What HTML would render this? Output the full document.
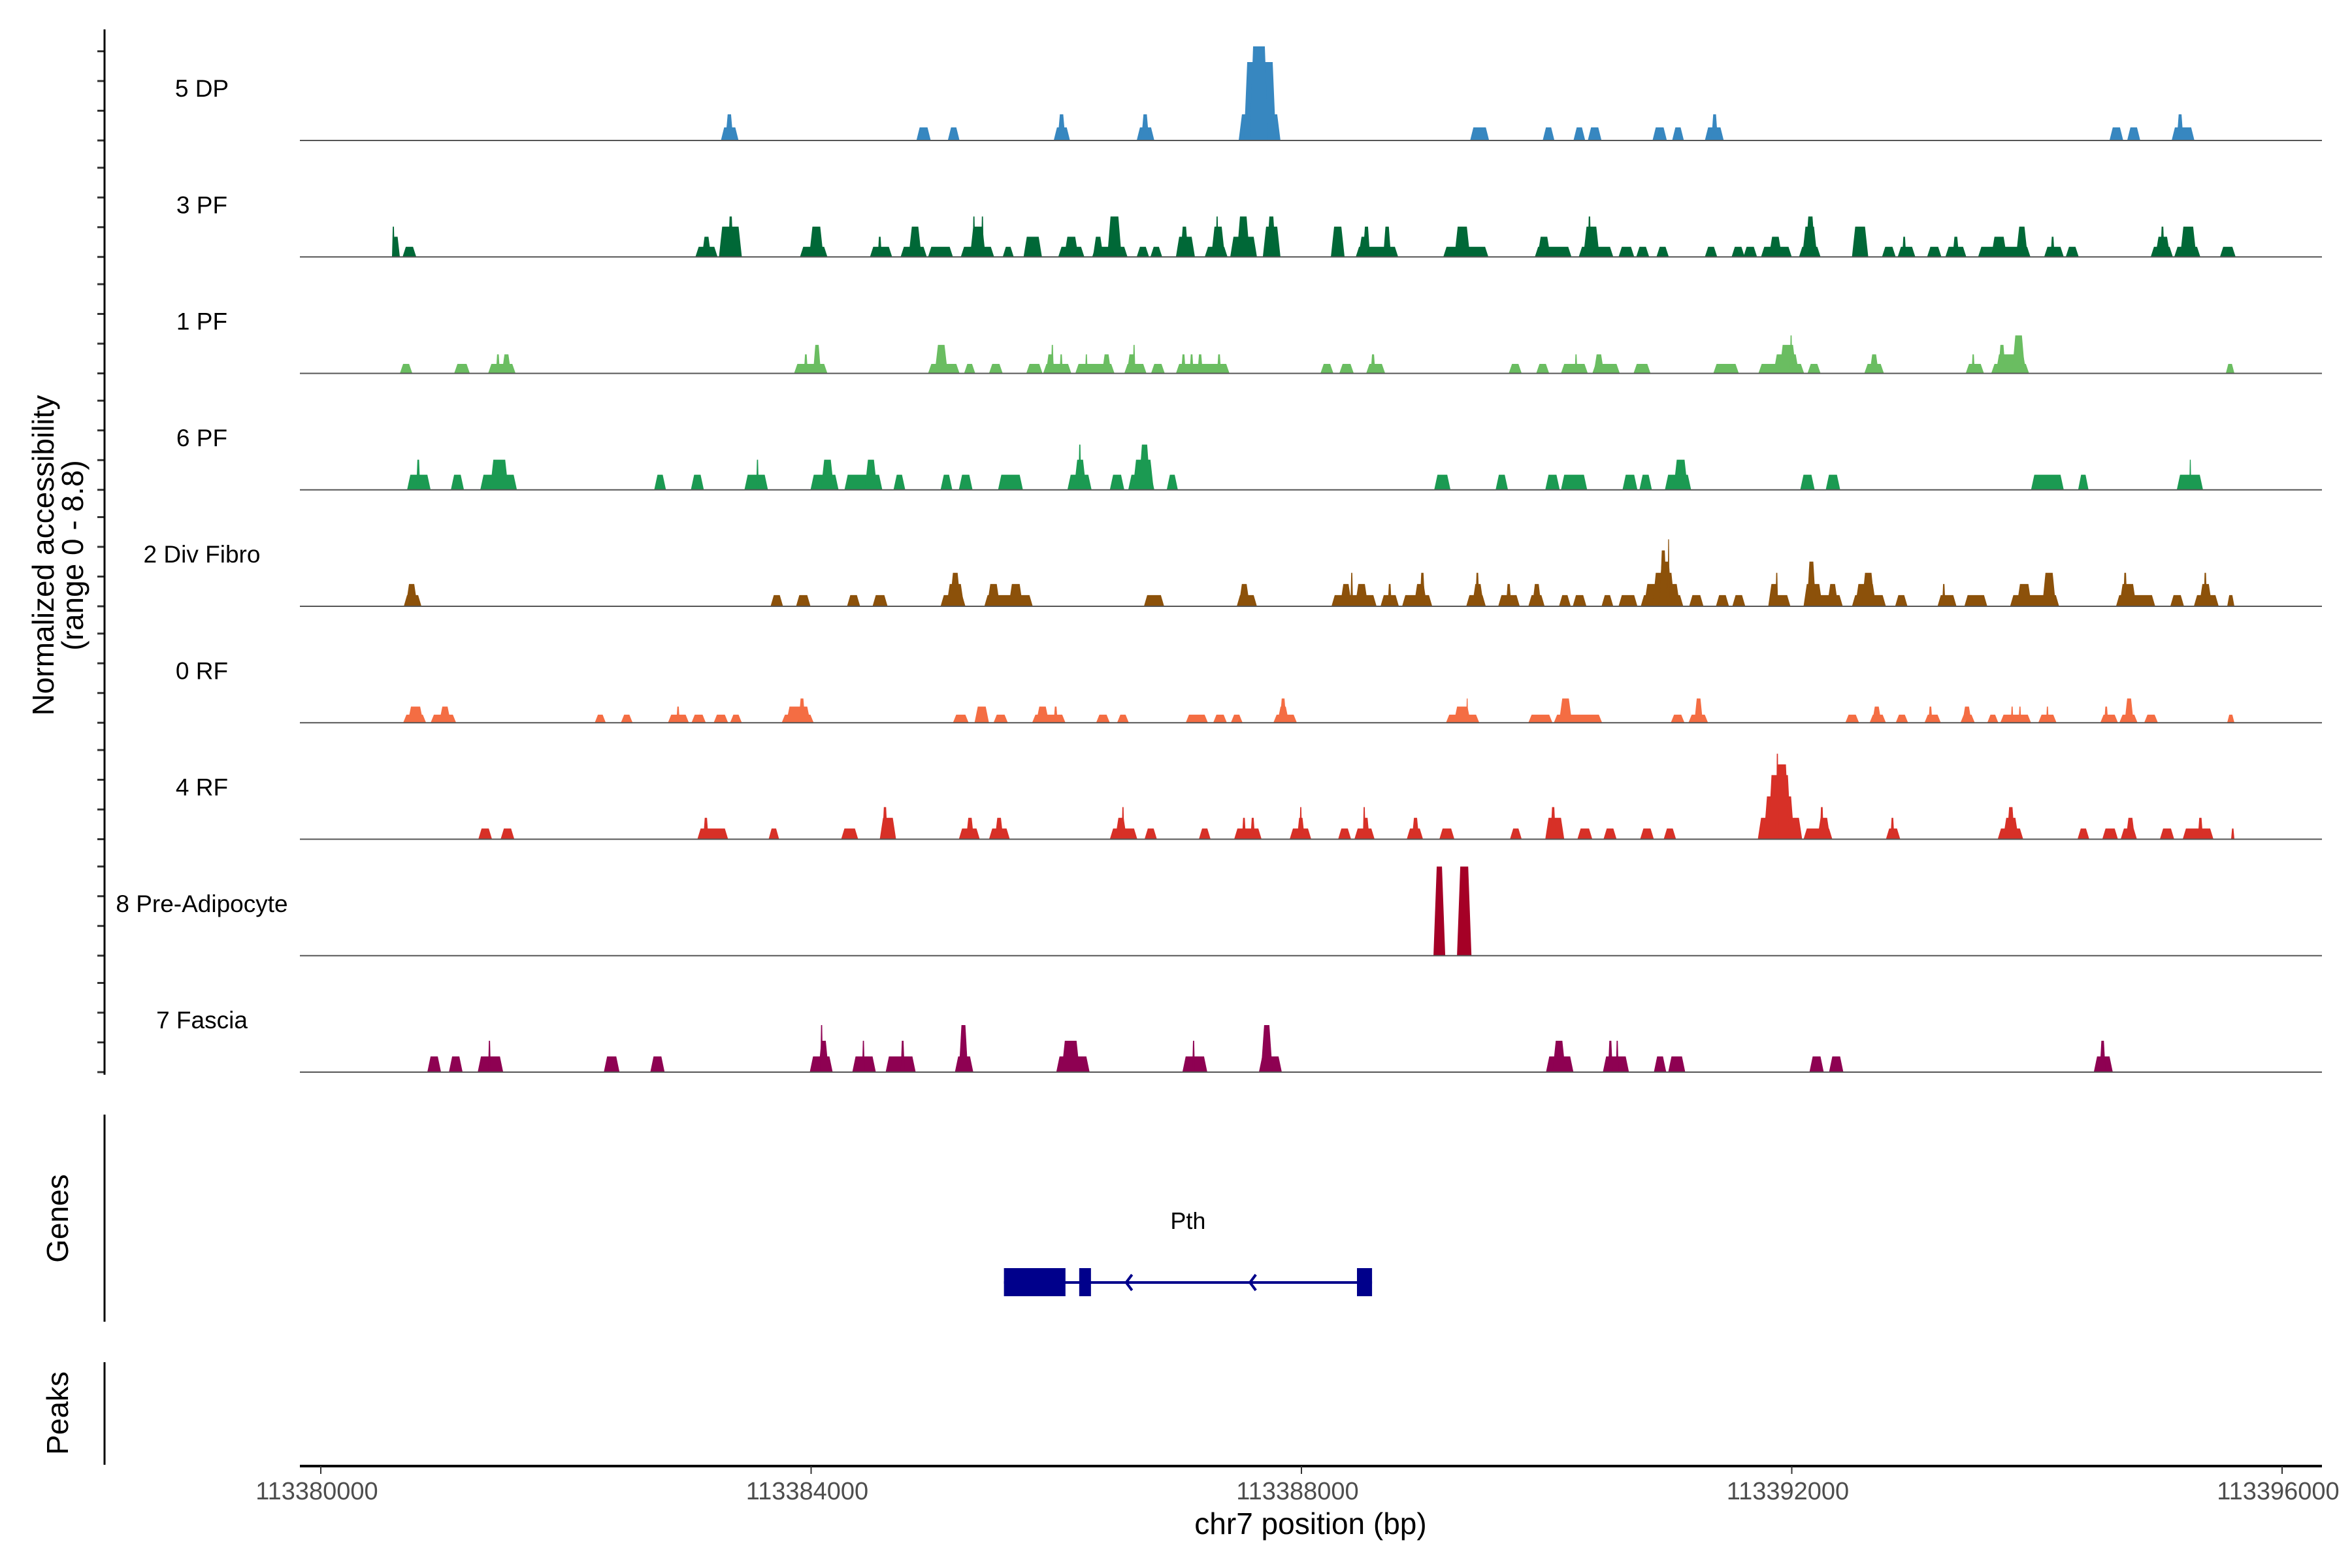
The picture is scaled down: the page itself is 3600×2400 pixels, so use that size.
<!DOCTYPE html>
<html><head><meta charset="utf-8"><style>
html,body{margin:0;padding:0;background:#fff}
svg{display:block;font-family:"Liberation Sans",Arial,sans-serif}
</style></head><body>
<svg id="chart" width="3600" height="2400" viewBox="0 0 3600 2400" xmlns="http://www.w3.org/2000/svg">
<text transform="translate(82,850) rotate(-90)" text-anchor="middle" font-size="46" fill="#000">Normalized accessibility</text>
<text transform="translate(127,850) rotate(-90)" text-anchor="middle" font-size="46" fill="#000">(range 0 - 8.8)</text>
<text transform="translate(104,1865) rotate(-90)" text-anchor="middle" font-size="46" fill="#000">Genes</text>
<text transform="translate(104,2163) rotate(-90)" text-anchor="middle" font-size="46" fill="#000">Peaks</text>
<text x="2006" y="2348" text-anchor="middle" font-size="46" fill="#000">chr7 position (bp)</text>
<g id="tracks"></g>
<g id="axes"></g>
<g id="genes"></g>
</svg>
<script>
const regionStart = 113380000;
const trackNames = ["5 DP","3 PF","1 PF","6 PF","2 Div Fibro","0 RF","4 RF","8 Pre-Adipocyte","7 Fascia"];
const trackColors = ["#3787c0","#006837","#6abd61","#1b9a52","#8c510a","#f46d43","#d73027","#a50026","#8e0152"];
const trackUnit = [1.1,0.85,0.8,1.27,0.94,0.68,0.9,7.5,1.32];
const xTickValues = [113380000,113384000,113388000,113392000,113396000];
const xTickLabels = ["113380000","113384000","113388000","113392000","113396000"];
// peaks: [start offset bp, end offset bp, level]
const peaksDP = [[3264,3408,1],[3301,3365,2],[4859,4976,1],[5115,5211,1],[5979,6112,1],[6011,6075,2],[6656,6800,1],[6693,6757,2],[7488,7829,2],[7531,7792,6],[7579,7728,7.2],[9376,9531,1],[9968,10064,1],[10219,10315,1],[10336,10448,1],[10864,10981,1],[11024,11120,1],[11291,11445,1],[11344,11397,2],[14592,14704,1],[14736,14843,1],[15099,15285,1],[15141,15195,2]];
const peaksPF3 = [[581,645,2],[581,603,3],[667,779,1],[3056,3237,1],[3109,3184,2],[3248,3435,3],[3323,3365,4],[3909,4133,1],[3984,4101,3],[4480,4661,1],[4544,4576,2],[4730,4944,1],[4795,4901,3],[4954,5157,1],[5221,5493,1],[5296,5424,3],[5317,5339,4],[5387,5408,4],[5563,5653,1],[5733,5883,2],[6016,6229,1],[6064,6181,2],[6293,6581,1],[6299,6384,2],[6416,6533,4],[6656,6757,1],[6768,6864,1],[6976,7131,2],[7013,7077,3],[7211,7397,1],[7264,7376,3],[7301,7323,4],[7419,7637,2],[7472,7579,4],[7685,7829,3],[7717,7792,4],[8240,8352,3],[8443,8789,1],[8464,8555,2],[8501,8560,3],[8667,8731,3],[9157,9525,1],[9248,9376,3],[9904,10203,1],[9925,10032,2],[10262,10544,1],[10299,10432,3],[10336,10363,4],[10587,10715,1],[10731,10837,1],[10896,10997,1],[11291,11392,1],[11509,11616,1],[11605,11717,1],[11749,12000,1],[11813,11920,2],[12059,12235,1],[12085,12208,3],[12112,12192,4],[12491,12624,3],[12736,12848,1],[12864,13008,1],[12901,12933,2],[13104,13221,1],[13253,13424,1],[13312,13365,2],[13520,13947,1],[13627,13755,2],[13829,13925,3],[14059,14219,1],[14112,14144,2],[14235,14341,1],[14928,15109,1],[14965,15088,2],[15008,15040,3],[15120,15333,1],[15168,15301,3],[15493,15621,1]];
const peaksPF1 = [[645,747,1],[1088,1216,1],[1365,1589,1],[1429,1461,2],[1477,1552,2],[3861,4133,1],[3941,3973,2],[4016,4080,3],[4954,5211,1],[5008,5115,3],[5248,5339,1],[5451,5563,1],[5755,5888,1],[5893,6123,1],[5915,5989,2],[5957,5979,3],[6027,6053,2],[6155,6475,1],[6235,6256,2],[6373,6448,2],[6555,6736,1],[6576,6651,2],[6624,6645,3],[6773,6885,1],[6976,7413,1],[7019,7056,2],[7088,7120,2],[7152,7195,2],[7312,7344,2],[8155,8261,1],[8309,8427,1],[8528,8683,1],[8565,8603,2],[9691,9797,1],[9915,10021,1],[10117,10336,1],[10229,10251,2],[10373,10597,1],[10384,10469,2],[10709,10848,1],[11360,11568,1],[11728,12101,1],[11851,12059,2],[11899,12037,3],[11984,12005,4],[12128,12235,1],[12592,12752,1],[12635,12709,2],[13419,13568,1],[13467,13493,2],[13627,13936,1],[13664,13915,2],[13685,13744,3],[13797,13904,4],[15541,15611,1]];
const peaksPF6 = [[704,896,1],[779,811,2],[1061,1168,1],[1301,1600,1],[1381,1531,2],[2720,2816,1],[3019,3125,1],[3456,3648,1],[3552,3573,2],[3995,4224,1],[4080,4187,2],[4272,4581,1],[4437,4539,2],[4672,4768,1],[5056,5152,1],[5205,5317,1],[5525,5728,1],[6091,6288,1],[6144,6245,2],[6181,6203,3],[6437,6555,1],[6587,6800,1],[6624,6795,2],[6672,6768,3],[6901,6992,1],[9083,9216,1],[9584,9685,1],[9989,10107,1],[10117,10331,1],[10619,10741,1],[10757,10859,1],[10965,11179,1],[11035,11152,2],[12069,12187,1],[12277,12395,1],[13952,14219,1],[14336,14421,1],[15141,15355,1],[15243,15259,2]];
const peaksDiv = [[677,821,1],[693,789,2],[3669,3771,1],[3877,3995,1],[4293,4400,1],[4501,4624,1],[5056,5259,1],[5104,5248,2],[5131,5221,3],[5413,5808,1],[5435,5541,2],[5611,5728,2],[6715,6880,1],[7472,7637,1],[7488,7579,2],[8245,8613,1],[8315,8411,2],[8400,8421,3],[8437,8544,2],[8645,8795,1],[8704,8736,2],[8821,9067,1],[8917,9024,2],[8965,9008,3],[9344,9504,1],[9392,9488,2],[9419,9451,3],[9605,9781,1],[9669,9712,2],[9851,9984,1],[9883,9957,2],[10101,10197,1],[10213,10325,1],[10448,10544,1],[10587,10741,1],[10768,11115,1],[10795,11088,2],[10864,11045,3],[10912,11024,4],[10923,10981,5],[10987,11003,6],[11163,11280,1],[11381,11488,1],[11515,11621,1],[11808,11989,1],[11808,11899,2],[11867,11888,3],[12096,12416,1],[12096,12251,2],[12123,12197,4],[12288,12379,2],[12491,12768,1],[12517,12688,2],[12571,12677,3],[12843,12944,1],[13189,13344,1],[13227,13253,2],[13408,13595,1],[13781,14181,1],[13835,13957,2],[14043,14155,3],[14645,14965,1],[14672,14811,2],[14704,14736,3],[15088,15200,1],[15280,15483,1],[15323,15429,2],[15360,15387,3],[15552,15611,1]];
const peaksRF0 = [[672,859,1],[709,837,2],[896,1104,1],[965,1061,2],[2235,2325,1],[2448,2544,1],[2832,3003,1],[2901,2928,2],[3024,3141,1],[3205,3323,1],[3339,3435,1],[3760,4021,1],[3797,3995,2],[3899,3952,3],[5157,5285,1],[5333,5451,2],[5488,5605,1],[5803,6075,1],[5835,5941,2],[5979,6011,2],[6325,6437,1],[6496,6592,1],[7056,7237,1],[7280,7392,1],[7424,7520,1],[7771,7963,1],[7803,7899,2],[7824,7877,3],[9179,9451,1],[9243,9381,2],[9344,9360,3],[9851,10048,1],[10059,10453,1],[10101,10208,3],[11013,11125,1],[11157,11317,1],[11205,11275,3],[12437,12549,1],[12635,12768,1],[12656,12731,2],[12848,12949,1],[13083,13216,1],[13115,13147,2],[13376,13493,1],[13392,13467,2],[13595,13685,1],[13701,13952,1],[13787,13808,2],[13851,13872,2],[14011,14160,1],[14075,14096,2],[14517,14661,1],[14549,14581,2],[14672,14821,1],[14715,14789,3],[14875,14987,1],[15552,15611,1]];
const peaksRF4 = [[1285,1397,1],[1467,1579,1],[3072,3323,1],[3120,3163,2],[3653,3739,1],[4245,4384,1],[4560,4693,2],[4581,4624,3],[5205,5376,1],[5264,5328,2],[5451,5621,1],[5499,5568,2],[6437,6661,1],[6480,6576,2],[6533,6555,3],[6720,6821,1],[7163,7259,1],[7451,7675,1],[7515,7547,2],[7584,7621,2],[7904,8080,1],[7963,8027,2],[7984,8005,3],[8299,8405,1],[8432,8597,1],[8501,8555,2],[8501,8523,3],[8859,8992,1],[8901,8960,2],[9125,9248,1],[9701,9797,1],[9989,10144,2],[10032,10075,3],[10251,10373,1],[10464,10571,1],[10763,10875,1],[10955,11056,1],[11723,12085,2],[11771,12021,4],[11808,11995,6],[11861,11979,7],[11872,11893,8],[12096,12331,1],[12208,12315,2],[12229,12261,3],[12768,12885,1],[12805,12837,2],[13680,13888,1],[13723,13851,2],[13755,13819,3],[14331,14427,1],[14533,14661,1],[14683,14816,1],[14725,14800,2],[15003,15120,1],[15189,15440,1],[15312,15355,2],[15584,15611,1]];
const peaksPre = [[9077,9173,1],[9269,9387,1]];
const peaksFascia = [[869,981,1],[1045,1157,1],[1280,1488,1],[1365,1387,2],[2309,2437,1],[2688,2805,1],[3989,4176,1],[4059,4144,2],[4075,4096,3],[4336,4528,1],[4416,4437,2],[4608,4853,1],[4731,4763,2],[5173,5323,1],[5205,5280,3],[6000,6272,1],[6043,6192,2],[7029,7232,1],[7109,7131,2],[7653,7840,1],[7669,7765,3],[9995,10219,1],[10048,10155,2],[10459,10672,1],[10501,10539,2],[10565,10587,2],[10875,10976,1],[10992,11131,1],[12144,12261,1],[12304,12421,1],[14464,14619,1],[14512,14560,2]];
const trackPeaks = [peaksDP,peaksPF3,peaksPF1,peaksPF6,peaksDiv,peaksRF0,peaksRF4,peaksPre,peaksFascia];
// gene Pth (minus strand): exons as bp offsets
const geneName = "Pth";
const geneStart = 5573, geneEnd = 8576;
const geneExons = [[5573,6075],[6187,6283],[8453,8576]];
const geneArrows = [6570,7580];

const NS = "http://www.w3.org/2000/svg";
const plotX0 = 459, plotX1 = 3554;
function xScale(bp){ return 491 + (bp - regionStart) * 750.5 / 4000; }
const pxPerUnit = 160 / 8.8;
function baseY(i){ return 215 + i * 178.25; }
function mk(tag, attrs, parent){ const e = document.createElementNS(NS, tag); for (const k in attrs) e.setAttribute(k, attrs[k]); parent.appendChild(e); return e; }

const gT = document.getElementById('tracks');
const gA = document.getElementById('axes');
const gG = document.getElementById('genes');

trackNames.forEach((name, i) => {
  const by = baseY(i);
  const g = mk('g', {}, gT);
  
  
  const lbl = mk('text', {x: 309, y: by - 67, 'text-anchor': 'middle', 'font-size': 37, fill: '#000'}, g);
  lbl.textContent = name;
  
  
  trackPeaks[i].forEach(p => {
    const x0 = xScale(regionStart + p[0]), x1 = xScale(regionStart + p[1]);
    const h = p[2] * trackUnit[i] * pxPerUnit;
    const inset = Math.min(5, (x1 - x0) / 3.5);
    const poly = mk('polygon', {points: `${x0},${by} ${x0+inset},${by-h} ${x1-inset},${by-h} ${x1},${by}`, fill: trackColors[i]}, g);
    
    
  });
  const bl = mk('line', {x1: plotX0, x2: plotX1, y1: by, y2: by, stroke: '#555', 'stroke-width': 2}, g);
  
  
  for (let k = 0; k < 4; k++) {
    const ty = by - k * 45.5;
    const t = mk('line', {x1: 149, x2: 160, y1: ty, y2: ty, stroke: '#333', 'stroke-width': 3}, gA);
    
    
  }
});

const yAxis = mk('line', {x1: 160, x2: 160, y1: 45, y2: 1645, stroke: '#000', 'stroke-width': 3}, gA);


const gAx = mk('line', {x1: 160, x2: 160, y1: 1706, y2: 2023, stroke: '#000', 'stroke-width': 3}, gA);


const pAx = mk('line', {x1: 160, x2: 160, y1: 2085, y2: 2242, stroke: '#000', 'stroke-width': 3}, gA);


const xAx = mk('line', {x1: plotX0, x2: plotX1, y1: 2244, y2: 2244, stroke: '#000', 'stroke-width': 4}, gA);


xTickValues.forEach((v, j) => {
  const x = xScale(v);
  const t = mk('line', {x1: x, x2: x, y1: 2244, y2: 2256, stroke: '#333', 'stroke-width': 2}, gA);
  
  
  const l = mk('text', {x: x - 6, y: 2295, 'text-anchor': 'middle', 'font-size': 38, fill: '#4d4d4d'}, gA);
  l.textContent = xTickLabels[j];
  
  
});

// gene model
const gy = 1963;
const gl = mk('line', {x1: xScale(regionStart + geneStart), x2: xScale(regionStart + geneEnd), y1: gy, y2: gy, stroke: '#00008b', 'stroke-width': 4}, gG);


geneExons.forEach(e => {
  const x0 = xScale(regionStart + e[0]), x1 = xScale(regionStart + e[1]);
  const r = mk('rect', {x: x0, y: 1941, width: x1 - x0, height: 43, fill: '#00008b'}, gG);
  
  
});
geneArrows.forEach(a => {
  const x = xScale(regionStart + a);
  const p = mk('polyline', {points: `${x+9},${gy-12} ${x},${gy} ${x+9},${gy+12}`, fill: 'none', stroke: '#00008b', 'stroke-width': 4}, gG);
  
  
});
const gn = mk('text', {x: xScale(regionStart + (geneStart + geneEnd) / 2), y: 1881, 'text-anchor': 'middle', 'font-size': 36, fill: '#000'}, gG);
gn.textContent = geneName;


</script>
</body></html>
